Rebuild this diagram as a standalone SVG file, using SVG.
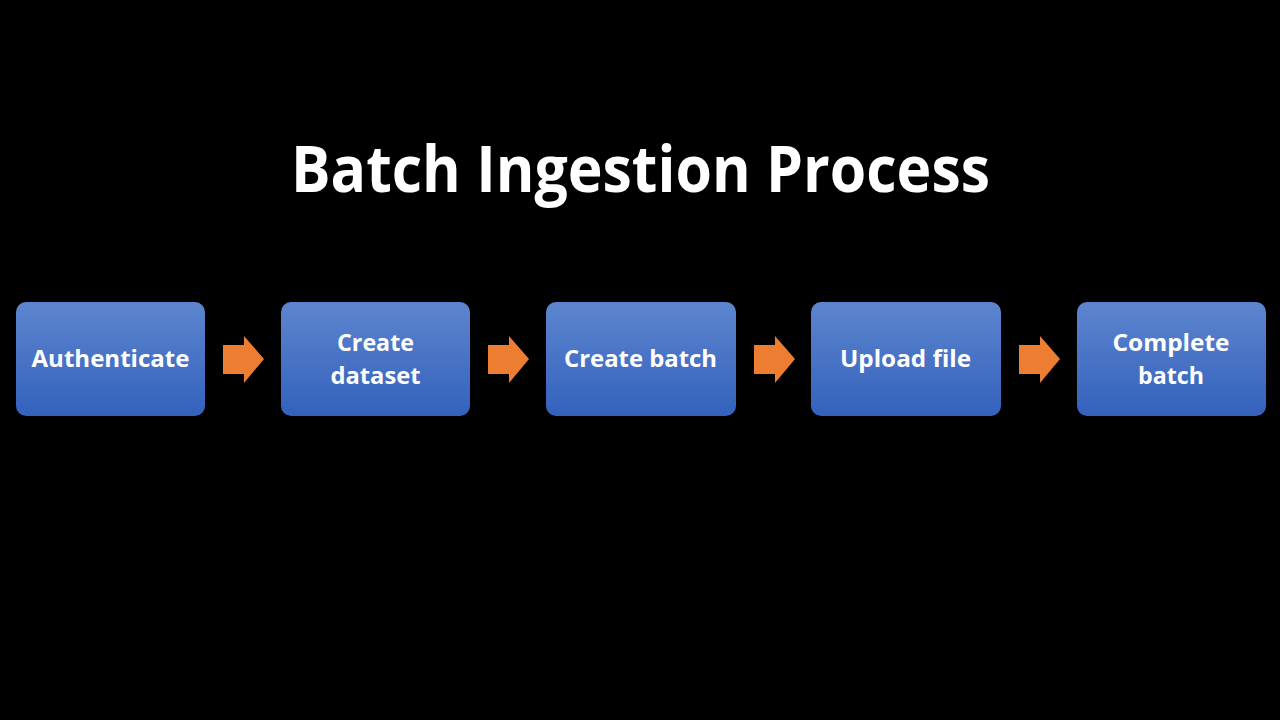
<svg xmlns="http://www.w3.org/2000/svg" width="1280" height="720" viewBox="0 0 1280 720">
<defs>
<linearGradient id="g" x1="0" y1="0" x2="0" y2="1">
<stop offset="0" stop-color="#5d85cf"/>
<stop offset="1" stop-color="#3361bc"/>
</linearGradient>
<style>
.box{fill:url(#g);}
.t{font-family:"Open Sans","Liberation Sans",sans-serif;font-weight:bold;fill:#ffffff;text-anchor:middle;}
.lbl{font-size:24px;}
.title{font-size:64px;}
.arr{fill:#ed7d31;}
</style>
<path id="arrow" d="M0,9 H21 V0 L41,23 L21,47 V38 H0 Z"/>
</defs>
<rect width="1280" height="720" fill="#000000"/>
<g id="title"><text class="t title" x="640.5" y="192" textLength="699" lengthAdjust="spacingAndGlyphs">Batch Ingestion Process</text></g>
<g id="connectors">
<use href="#arrow" class="arr" x="223" y="336"/>
<use href="#arrow" class="arr" x="488" y="336"/>
<use href="#arrow" class="arr" x="754" y="336"/>
<use href="#arrow" class="arr" x="1019" y="336"/>
</g>
<g id="n1"><rect class="box" x="16" y="302" width="189" height="114" rx="10"/><text class="t lbl" x="110.5" y="367" textLength="158" lengthAdjust="spacingAndGlyphs">Authenticate</text></g>
<g id="n2"><rect class="box" x="281" y="302" width="189" height="114" rx="10"/><text class="t lbl" x="375.5" y="351" textLength="77" lengthAdjust="spacingAndGlyphs">Create</text><text class="t lbl" x="375.5" y="384" textLength="90" lengthAdjust="spacingAndGlyphs">dataset</text></g>
<g id="n3"><rect class="box" x="546" y="302" width="190" height="114" rx="10"/><text class="t lbl" x="640.5" y="367" textLength="153" lengthAdjust="spacingAndGlyphs">Create batch</text></g>
<g id="n4"><rect class="box" x="811" y="302" width="190" height="114" rx="10"/><text class="t lbl" x="905.5" y="367" textLength="131" lengthAdjust="spacingAndGlyphs">Upload file</text></g>
<g id="n5"><rect class="box" x="1077" y="302" width="189" height="114" rx="10"/><text class="t lbl" x="1171" y="351" textLength="117" lengthAdjust="spacingAndGlyphs">Complete</text><text class="t lbl" x="1171" y="384" textLength="66" lengthAdjust="spacingAndGlyphs">batch</text></g>
</svg>
